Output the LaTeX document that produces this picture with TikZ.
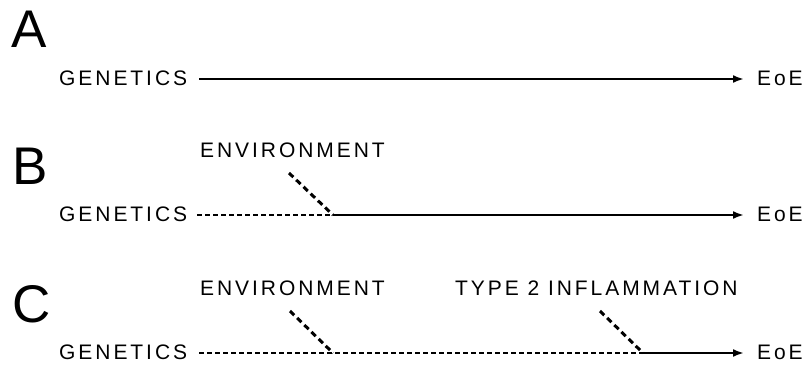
\documentclass[tikz,border=0pt]{standalone}
\usepackage{fontspec}
\setmainfont{Liberation Sans}
\usetikzlibrary{arrows.meta}
\begin{document}
\begin{tikzpicture}[x=1pt,y=-1pt,
  lbl/.style={inner sep=0pt,anchor=west,font=\fontsize{21}{24}\selectfont\addfontfeatures{LetterSpace=14}},
  panel/.style={inner sep=0pt,anchor=west,font=\fontsize{53}{56}\selectfont},
  dashln/.style={line width=2.4pt,dash pattern=on 5pt off 3pt},
  diagln/.style={line width=3pt,dash pattern=on 6pt off 4pt},
  arr/.style={line width=2.2pt,-{Latex[length=11pt,width=8pt]}}
]
\useasboundingbox (0,0) rectangle (809,371);
% panel letters
\node[panel] (pA) at (11,29) {A};
\node[panel] (pB) at (12,166) {B};
\node[panel] (pC) at (12,304) {C};
% row A
\node[lbl] (gA) at (59,78) {GENETICS};
\node[lbl] (eA) at (757,78) {EoE};
\coordinate (sA) at (199,79);
\coordinate (tA) at (744,79);
\draw[arr] (sA) -- (tA);
% row B
\node[lbl] (gB) at (59,214) {GENETICS};
\node[lbl] (eB) at (757,214) {EoE};
\node[lbl] (envB) at (200,150) {ENVIRONMENT};
\coordinate (sB) at (197,215);
\coordinate (jB) at (333,215);
\coordinate (dB) at (289,173);
\coordinate (tB) at (744,215);
\draw[dashln] (sB) -- (jB);
\draw[diagln] (dB) -- (jB);
\draw[arr] (jB) -- (tB);
% row C
\node[lbl] (gC) at (59,352) {GENETICS};
\node[lbl] (eC) at (757,352) {EoE};
\node[lbl] (envC) at (200,288) {ENVIRONMENT};
\node[lbl] (infC) at (455,288) {TYPE 2 INFLAMMATION};
\coordinate (sC) at (199,353);
\coordinate (jC1) at (333,353);
\coordinate (dC1) at (290,311);
\coordinate (jC2) at (643,353);
\coordinate (dC2) at (600,311);
\coordinate (tC) at (744,353);
\draw[dashln] (sC) -- (jC2);
\draw[diagln] (dC1) -- (jC1);
\draw[diagln] (dC2) -- (jC2);
\draw[arr] (jC2) -- (tC);
\end{tikzpicture}
\end{document}
